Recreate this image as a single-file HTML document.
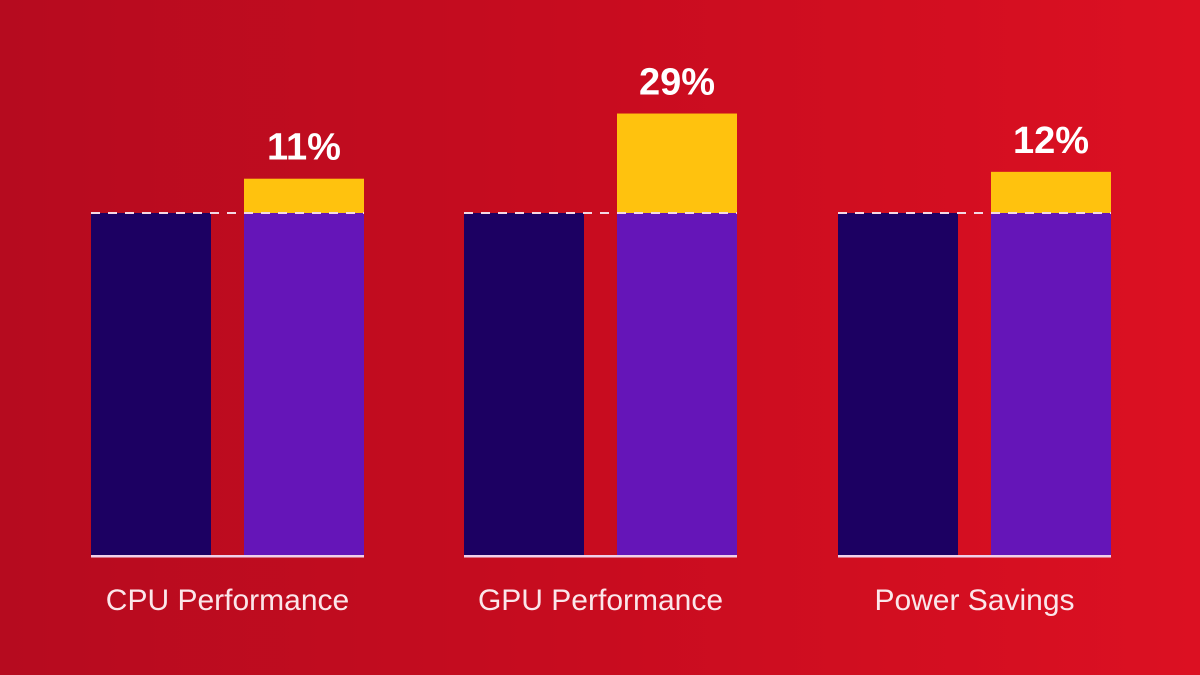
<!DOCTYPE html>
<html><head><meta charset="utf-8"><style>
html,body{margin:0;padding:0;width:1200px;height:675px;overflow:hidden}
body{background:linear-gradient(90deg,#b60b1f 0%,#c80c1f 50%,#dc1022 100%);font-family:"Liberation Sans",sans-serif}
</style></head><body>
<svg id="chart" width="1200" height="675" xmlns="http://www.w3.org/2000/svg"></svg>
<script>
const categories = ["CPU Performance","GPU Performance","Power Savings"];
const baselineValues = [100,100,100];
const improvedValues = [110,129,112];
const valueLabels = ["11%","29%","12%"];

const svg = document.getElementById('chart');
const NS = 'http://www.w3.org/2000/svg';
const groupX = [91,464,838];
const barW = 120, gap = 33;
const yBase = 556, yHundred = 213;
function y(v){ return yBase - (yBase - yHundred) * v / 100; }
function mk(tag, attrs){ const e=document.createElementNS(NS,tag); for(const k in attrs) e.setAttribute(k,attrs[k]); svg.appendChild(e); return e; }

categories.forEach((cat,i)=>{
  const x0 = groupX[i];
  const x1 = x0 + barW + gap;
  let r = mk('rect',{x:x0,y:y(baselineValues[i]),width:barW,height:yBase-y(baselineValues[i]),fill:'#1c0062'});
  
  
  r = mk('rect',{x:x1,y:y(100),width:barW,height:yBase-y(100),fill:'#6515b8'});
  
  
  r = mk('rect',{x:x1,y:y(improvedValues[i]),width:barW,height:y(100)-y(improvedValues[i]),fill:'#ffc20e'});
  
  
  let l = mk('line',{x1:x0,x2:x1+barW,y1:y(100),y2:y(100),stroke:'#f4d8e4','stroke-width':2,'stroke-dasharray':'9,8'});
  
  
  l = mk('rect',{x:x0,y:yBase-1,width:x1+barW-x0,height:2.5,fill:'#f0d0ea'});
  
  
  let t = mk('text',{x:x1+barW/2,y:y(improvedValues[i])-19,'text-anchor':'middle','font-size':38,'font-weight':'bold',fill:'#fff'});
  t.textContent = valueLabels[i];
  
  
  t = mk('text',{x:x0+(barW*2+gap)/2,y:610,'text-anchor':'middle','font-size':30,fill:'#fbe6ea'});
  t.textContent = cat;
  
  
});
</script>
</body></html>
